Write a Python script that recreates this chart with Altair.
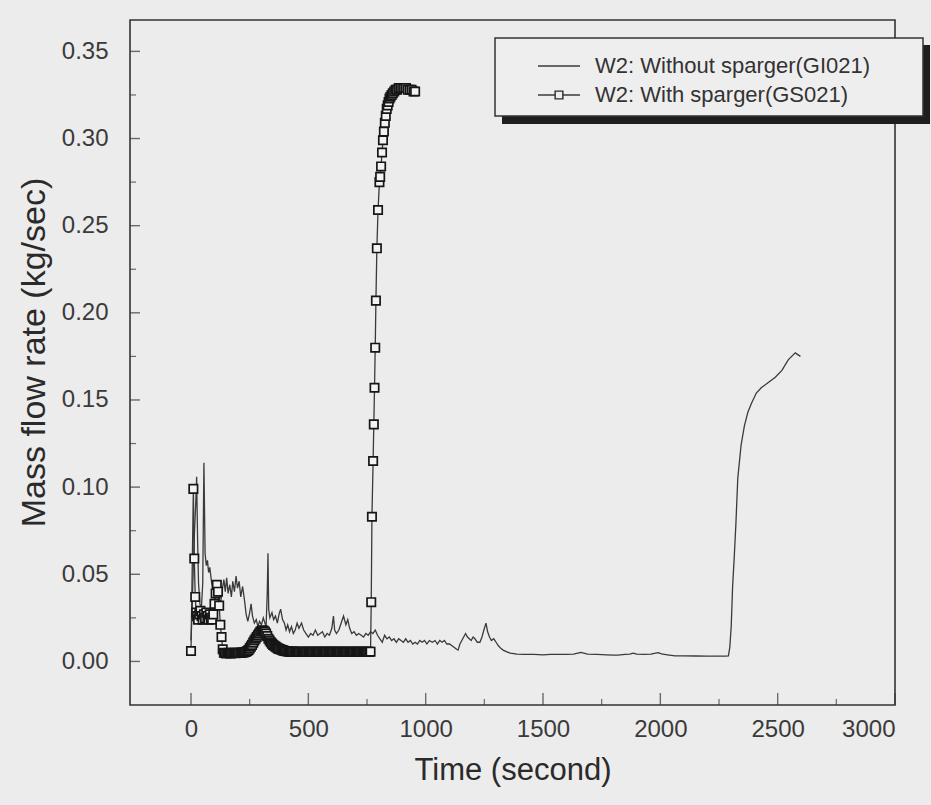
import altair as alt
import pandas as pd

# W2 mass flow rate, test GI021 (without sparger)
t_gi = [0, 5, 10, 15, 20, 24, 28, 32, 38, 44, 50, 55, 60, 65, 70, 75, 80, 88, 95, 102,
        110, 118, 125, 132, 140, 146, 152, 158, 165, 172, 178, 185, 192, 198, 205, 212,
        220, 228, 235, 242, 250, 256, 262, 270, 278, 285, 292, 300, 308, 315, 320, 325,
        328, 331, 336, 345, 352, 360, 368, 375, 382, 390, 398, 405, 412, 420, 428, 436,
        444, 452, 460, 471, 480, 490, 500, 510, 520, 530, 540, 550, 560, 570, 580, 590,
        600, 607, 612, 620, 630, 640, 650, 660, 668, 676, 685, 695, 705, 715, 725, 735,
        745, 755, 765, 775, 785, 795, 805, 815, 825, 835, 845, 855, 865, 875, 885, 895,
        905, 915, 925, 935, 945, 955, 965, 975, 985, 995, 1005, 1016, 1028, 1040, 1050,
        1060, 1070, 1080, 1090, 1102, 1112, 1122, 1132, 1138, 1146, 1154, 1162, 1170,
        1178, 1186, 1194, 1202, 1210, 1220, 1231, 1240, 1248, 1257, 1264, 1272, 1280,
        1290, 1300, 1310, 1320, 1330, 1346, 1360, 1375, 1389, 1420, 1460, 1500, 1533,
        1570, 1600, 1630, 1662, 1690, 1730, 1770, 1800, 1819, 1850, 1870, 1884, 1900,
        1930, 1960, 1975, 1991, 2005, 2030, 2063, 2100, 2150, 2200, 2250, 2278, 2290,
        2296, 2302, 2308, 2315, 2322, 2330, 2344, 2358, 2373, 2388, 2409, 2430, 2460,
        2490, 2518, 2545, 2575, 2597]
w_gi = [0.012, 0.030, 0.055, 0.075, 0.090, 0.106, 0.070, 0.045, 0.033, 0.030, 0.045,
        0.114, 0.062, 0.055, 0.058, 0.051, 0.054, 0.045, 0.040, 0.035,
        0.030, 0.038, 0.032, 0.040, 0.047, 0.040, 0.048, 0.039, 0.044, 0.037, 0.046,
        0.040, 0.049, 0.042, 0.046, 0.037,
        0.043, 0.035, 0.027, 0.023, 0.028, 0.033, 0.026, 0.022, 0.024, 0.020, 0.023,
        0.021, 0.025, 0.022, 0.020, 0.040,
        0.062, 0.030, 0.025, 0.028, 0.024, 0.026, 0.022, 0.027, 0.030, 0.024, 0.022,
        0.018, 0.021, 0.017, 0.020, 0.016,
        0.018, 0.022, 0.019, 0.022, 0.018, 0.016, 0.014, 0.016, 0.015, 0.018, 0.015,
        0.016, 0.017, 0.014, 0.016, 0.015,
        0.019, 0.026, 0.018, 0.016, 0.018, 0.022, 0.026, 0.021, 0.024, 0.019, 0.016,
        0.017, 0.015, 0.016, 0.015, 0.014,
        0.016, 0.015, 0.017, 0.016, 0.018, 0.015, 0.013, 0.011, 0.015, 0.013, 0.014,
        0.012, 0.013, 0.011, 0.013, 0.012,
        0.011, 0.013, 0.011, 0.012, 0.010, 0.011, 0.010, 0.012, 0.011, 0.012, 0.010,
        0.012, 0.011, 0.012, 0.010,
        0.012, 0.011, 0.012, 0.010, 0.010, 0.009, 0.008, 0.007, 0.0065, 0.010, 0.012,
        0.014, 0.016,
        0.014, 0.013, 0.012, 0.014, 0.013, 0.011, 0.011, 0.014, 0.018, 0.022, 0.017,
        0.014, 0.012,
        0.013, 0.011, 0.009, 0.0075, 0.0065, 0.0055, 0.0048, 0.0045, 0.0042, 0.0040,
        0.0040, 0.0038, 0.0040,
        0.0040, 0.0040, 0.0042, 0.0052, 0.0042, 0.0040, 0.0038, 0.0036, 0.0036, 0.0040,
        0.0042, 0.0048, 0.0042,
        0.0040, 0.0042, 0.0046, 0.0050, 0.0043, 0.0038, 0.0032, 0.0032, 0.0031, 0.0030,
        0.0030, 0.0030, 0.0032,
        0.008, 0.020, 0.043, 0.060, 0.079, 0.105, 0.124, 0.135, 0.143, 0.148, 0.154,
        0.157, 0.160,
        0.163, 0.167, 0.173, 0.177, 0.175]

# W2 mass flow rate, test GS021 (with sparger), logged every 5 s after the first spike
t_gs = [0, 10, 14, 18, 22, 26, 30, 35, 40, 45, 50, 55, 60, 65, 70, 75, 80, 85, 90, 95,
        100, 105, 110, 115, 120, 125, 130, 135,
        140, 145, 150, 155, 160, 165, 170, 175, 180, 185, 190, 195, 200, 205, 210, 215,
        220, 225, 230, 235,
        240, 245, 250, 255, 260, 265, 270, 275, 280, 285, 290, 295, 300, 305, 310, 315,
        320, 325, 330, 335, 340, 345, 350, 355,
        360, 365, 370, 375, 380, 385, 390, 395, 400, 405, 410, 415, 420, 425, 430, 435,
        440, 445, 450, 455, 460, 465, 470, 475,
        480, 485, 490, 495, 500, 505, 510, 515, 520, 525, 530, 535, 540, 545, 550, 555,
        560, 565, 570, 575, 580, 585, 590, 595,
        600, 605, 610, 615, 620, 625, 630, 635, 640, 645, 650, 655, 660, 665, 670, 675,
        680, 685, 690, 695, 700, 705, 710, 715,
        720, 725, 730, 735, 740, 745, 750, 755, 760,
        765, 768, 771, 776, 779, 782, 785, 788, 792,
        797, 803, 806, 810, 814, 818, 822, 826, 830, 834, 838, 842, 846, 850, 855, 860,
        866, 872, 878, 885, 892, 900, 908, 916, 924, 932, 940, 948, 955]
w_gs = [0.006, 0.099, 0.059, 0.037, 0.028, 0.026, 0.024, 0.027, 0.029, 0.026, 0.024,
        0.027, 0.025, 0.028, 0.026, 0.024, 0.027, 0.025, 0.024, 0.027,
        0.033, 0.039, 0.044, 0.040, 0.032, 0.021, 0.014, 0.007,
        0.0050, 0.0048, 0.0046, 0.0048, 0.0050, 0.0047, 0.0046, 0.0048, 0.0050, 0.0049,
        0.0047, 0.0048, 0.0050, 0.0049, 0.0048, 0.0050, 0.0051, 0.0052, 0.0054, 0.0056,
        0.0060, 0.0066, 0.0075, 0.0085, 0.0095, 0.0108, 0.0120, 0.0130, 0.0140, 0.0150,
        0.0160, 0.0170, 0.0175, 0.0178, 0.0176, 0.0170, 0.0160, 0.0145, 0.0130, 0.0120,
        0.0110, 0.0102, 0.0095, 0.0090,
        0.0085, 0.0080, 0.0075, 0.0072, 0.0070, 0.0067, 0.0065, 0.0062, 0.0060, 0.0059,
        0.0058, 0.0057, 0.0056, 0.0055, 0.0056, 0.0057, 0.0055, 0.0054, 0.0056, 0.0055,
        0.0054, 0.0056, 0.0055, 0.0054,
        0.0055, 0.0056, 0.0054, 0.0055, 0.0056, 0.0054, 0.0055, 0.0055, 0.0056, 0.0054,
        0.0055, 0.0056, 0.0055, 0.0054, 0.0055, 0.0056, 0.0054, 0.0055, 0.0055, 0.0056,
        0.0054, 0.0055, 0.0056, 0.0055,
        0.0055, 0.0056, 0.0054, 0.0055, 0.0056, 0.0054, 0.0055, 0.0055, 0.0056, 0.0054,
        0.0055, 0.0056, 0.0055, 0.0054, 0.0055, 0.0056, 0.0054, 0.0055, 0.0055, 0.0056,
        0.0054, 0.0055, 0.0056, 0.0055,
        0.0055, 0.0054, 0.0056, 0.0055, 0.0054, 0.0055, 0.0056, 0.0055, 0.0056,
        0.0056, 0.034, 0.083, 0.115, 0.136, 0.157, 0.180, 0.207, 0.237,
        0.259, 0.275, 0.278, 0.284, 0.292, 0.299, 0.304, 0.309, 0.313, 0.317, 0.319,
        0.321, 0.323, 0.324, 0.325, 0.326,
        0.327, 0.328, 0.328, 0.329, 0.329, 0.329, 0.329, 0.329, 0.328, 0.328, 0.328,
        0.327, 0.327]

# axis ticks
y_major = [0.0, 0.05, 0.10, 0.15, 0.20, 0.25, 0.30, 0.35]
y_minor = [0.025, 0.075, 0.125, 0.175, 0.225, 0.275, 0.325]
x_major = [0, 500, 1000, 1500, 2000, 2500, 3000]
x_minor = [250, 750, 1250, 1750, 2250, 2750]

series_names = ["W2: Without sparger(GI021)", "W2: With sparger(GS021)"]

INK = "#333333"
PAPER = "#ececec"
FONT = "Liberation Sans"
W, H = 765, 685

xs = alt.Scale(domain=[-260, 3000], nice=False, zero=False)
ys = alt.Scale(domain=[-0.025, 0.368], nice=False, zero=False)

x_axis = alt.Axis(values=x_major, format="d", title="Time (second)", ticks=False,
                  domain=False, grid=False, labelPadding=12, titlePadding=14,
                  titleFontSize=31)
y_axis = alt.Axis(values=y_major, format=".2f", title="Mass flow rate (kg/sec)",
                  ticks=False, domain=False, grid=False, labelPadding=22,
                  titlePadding=10, titleFontSize=34, titleY=332)


def X():
    return alt.X("t:Q", scale=xs, axis=x_axis)


def Y():
    return alt.Y("w:Q", scale=ys, axis=y_axis)


gi = pd.DataFrame({"t": t_gi, "w": w_gi})
gs = pd.DataFrame({"t": t_gs, "w": w_gs})

line_gi = alt.Chart(gi).mark_line(color="#3a3a3a", strokeWidth=1.3).encode(x=X(), y=Y())
line_gs = alt.Chart(gs).mark_line(color="#3a3a3a", strokeWidth=1.3).encode(x=X(), y=Y())
pts_gs = alt.Chart(gs).mark_square(size=70, fill="#f3f3f3", fillOpacity=1,
                                   stroke="#161616", strokeWidth=1.7).encode(x=X(), y=Y())

# inward tick marks
ymaj = alt.Chart(pd.DataFrame({"w": y_major})).mark_tick(
    orient="horizontal", size=10, thickness=1.4, color=INK).encode(y=Y(), x=alt.value(5))
ymin = alt.Chart(pd.DataFrame({"w": y_minor})).mark_tick(
    orient="horizontal", size=6, thickness=1.2, color=INK).encode(y=Y(), x=alt.value(3))
xmaj = alt.Chart(pd.DataFrame({"t": x_major})).mark_tick(
    orient="vertical", size=12, thickness=1.4, color=INK).encode(x=X(), y=alt.value(H - 6))
xmin = alt.Chart(pd.DataFrame({"t": x_minor})).mark_tick(
    orient="vertical", size=6, thickness=1.2, color=INK).encode(x=X(), y=alt.value(H - 3))

# legend box with drop shadow
one = pd.DataFrame({"k": [0]})
shadow = alt.Chart(one).mark_rect(color="#1e1e1e").encode(
    x=alt.value(372), x2=alt.value(800), y=alt.value(25), y2=alt.value(104))
box = alt.Chart(one).mark_rect(fill="#eeeeee", stroke=INK, strokeWidth=1.5).encode(
    x=alt.value(365), x2=alt.value(793), y=alt.value(18), y2=alt.value(96))
leg_line1 = alt.Chart(one).mark_rule(color="#3a3a3a", strokeWidth=1.3).encode(
    x=alt.value(408), x2=alt.value(450), y=alt.value(46))
leg_line2 = alt.Chart(one).mark_rule(color="#3a3a3a", strokeWidth=1.3).encode(
    x=alt.value(408), x2=alt.value(450), y=alt.value(75))
leg_sq = alt.Chart(one).mark_square(size=60, fill="#eeeeee", fillOpacity=1,
                                    stroke="#2a2a2a", strokeWidth=1.4).encode(
    x=alt.value(429), y=alt.value(75))
leg_txt1 = alt.Chart(one).mark_text(align="left", baseline="middle", font=FONT,
                                    fontSize=22, color=INK).encode(
    x=alt.value(465), y=alt.value(46), text=alt.value(series_names[0]))
leg_txt2 = alt.Chart(one).mark_text(align="left", baseline="middle", font=FONT,
                                    fontSize=22, color=INK).encode(
    x=alt.value(465), y=alt.value(75), text=alt.value(series_names[1]))

chart = alt.layer(
    line_gi, line_gs, pts_gs, ymaj, ymin, xmaj, xmin,
    shadow, box, leg_line1, leg_line2, leg_sq, leg_txt1, leg_txt2,
).properties(
    width=W, height=H,
    autosize=alt.AutoSizeParams(type="none"),
    padding={"left": 130, "top": 20, "right": 36, "bottom": 100},
    background=PAPER,
).configure_view(
    stroke=INK, strokeWidth=1.6, fill=PAPER,
).configure_axis(
    labelFont=FONT, titleFont=FONT, labelFontSize=24,
    titleFontWeight="normal", labelColor="#3a3a3a", titleColor="#2a2a2a",
)

chart.save("out.html", embed_options={"renderer": "svg", "actions": False})
